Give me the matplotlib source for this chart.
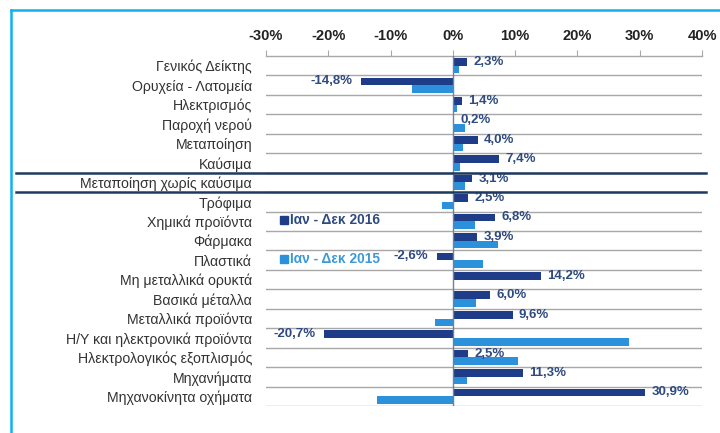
import matplotlib
matplotlib.use("Agg")
import matplotlib.pyplot as plt
from matplotlib.lines import Line2D
from matplotlib.transforms import blended_transform_factory

categories = ["Γενικός Δείκτης", "Ορυχεία - Λατομεία", "Ηλεκτρισμός", "Παροχή νερού",
              "Μεταποίηση", "Καύσιμα", "Μεταποίηση χωρίς καύσιμα", "Τρόφιμα",
              "Χημικά προϊόντα", "Φάρμακα", "Πλαστικά", "Μη μεταλλικά ορυκτά",
              "Βασικά μέταλλα", "Μεταλλικά προϊόντα", "Η/Υ και ηλεκτρονικά προϊόντα",
              "Ηλεκτρολογικός εξοπλισμός", "Μηχανήματα", "Μηχανοκίνητα οχήματα"]
values_2016 = [2.3, -14.8, 1.4, 0.2, 4.0, 7.4, 3.1, 2.5, 6.8, 3.9, -2.6, 14.2,
               6.0, 9.6, -20.7, 2.5, 11.3, 30.9]
values_2015 = [1.0, -6.6, 0.6, 1.9, 1.7, 1.2, 1.9, -1.7, 3.6, 7.3, 4.9, 0.0,
               3.7, -2.8, 28.2, 10.5, 2.2, -12.1]
xticks = [-30, -20, -10, 0, 10, 20, 30, 40]
xtick_labels = ["-30%", "-20%", "-10%", "0%", "10%", "20%", "30%", "40%"]
legend_labels = ["Ιαν - Δεκ 2016", "Ιαν - Δεκ 2015"]

DARK = "#1F3C88"
LIGHT = "#2B91DA"
LBL_DARK = "#2E4A80"
FONT = ["Liberation Sans", "DejaVu Sans"]

fig = plt.figure(figsize=(7.2, 4.33), dpi=100)
fig.patch.set_facecolor("white")
W, H = 720, 433
ax = fig.add_axes([266 / W, 1 - 406 / H, (702 - 266) / W, (406 - 56) / H])

n = len(categories)
ys = list(range(n))
h = 0.39
ax.barh([y - h / 2 for y in ys], values_2016, height=h, color=DARK, zorder=3)
ax.barh([y + h / 2 for y in ys], values_2015, height=h, color=LIGHT, zorder=3)

ax.set_xlim(-30, 40)
ax.set_ylim(n - 0.5, -0.5)

# gridlines at row boundaries
for i in range(n):
    ax.axhline(i + 0.5, color="#A8A8A8", lw=1.0, zorder=1)
ax.axvline(0, color="#6F8297", lw=1.0, zorder=4)

# value labels
for y, v in zip(ys, values_2016):
    lab = f"{v:.1f}%".replace(".", ",")
    if v >= 0:
        ax.annotate(lab, (v, y - h / 2), xytext=(4.5, 0), textcoords="offset points",
                    ha="left", va="center", color=LBL_DARK, fontsize=9.5,
                    fontweight="bold", family=FONT, zorder=5)
    else:
        ax.annotate(lab, (v, y - h / 2), xytext=(-6, 0), textcoords="offset points",
                    ha="right", va="center", color=LBL_DARK, fontsize=9.5,
                    fontweight="bold", family=FONT, zorder=5)

# axes styling
ax.xaxis.tick_top()
ax.set_xticks(xticks)
ax.set_xticklabels(xtick_labels, fontsize=10.5, fontweight="bold", color="#222222",
                   family=FONT)
ax.tick_params(axis="x", direction="out", length=4, color="#A8A8A8", pad=5)
ax.set_yticks(ys)
ax.set_yticklabels(categories, fontsize=10.2, color="#333333", family=FONT)
ax.tick_params(axis="y", length=0, pad=10)
for s in ["bottom", "left", "right"]:
    ax.spines[s].set_visible(False)
ax.spines["top"].set_color("#A8A8A8")
ax.spines["top"].set_linewidth(1.0)

# legend (text-style)
leg_rows = [8, 10]
for r, lab, c, tc in zip(leg_rows, legend_labels, [DARK, LIGHT], [LBL_DARK, "#3A9AD9"]):
    ax.plot([-27.1], [r - 0.05], marker="s", ms=6, color=c, clip_on=False, zorder=5)
    ax.text(-26.2, r - 0.05, lab, ha="left", va="center", color=tc, fontsize=9.9,
            fontweight="bold", family=FONT, zorder=5)

# dark separator lines around "Μεταποίηση χωρίς καύσιμα"
tr = blended_transform_factory(fig.transFigure, ax.transData)
for yb in [5.5, 6.5]:
    ax.add_line(Line2D([16 / W, 706 / W], [yb, yb], transform=tr, color="#1F3A60",
                       lw=1.8, clip_on=False, zorder=6))

# light blue frame (top and left)
fig.add_artist(Line2D([11 / W, 1.0], [1 - 10 / H, 1 - 10 / H], transform=fig.transFigure,
                      color="#12B0F0", lw=1.8))
fig.add_artist(Line2D([11 / W, 11 / W], [0, 1 - 10 / H], transform=fig.transFigure,
                      color="#12B0F0", lw=1.8))

fig.savefig("out.png", dpi=100, facecolor="white")
